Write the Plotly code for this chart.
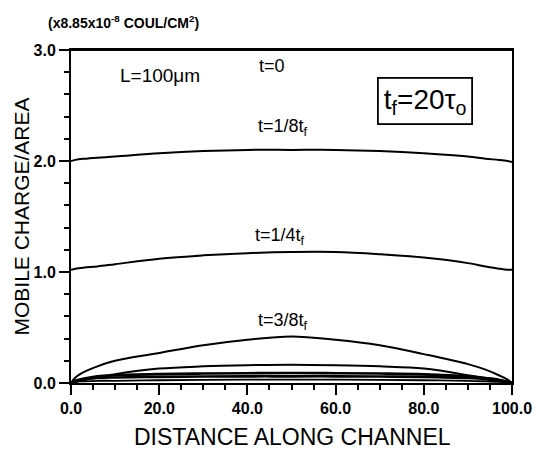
import plotly.graph_objects as go

# Distance along channel (micrometres)
x = [0, 1, 3, 6, 10, 20, 30, 40, 50, 60, 70, 80, 90, 94, 97, 99, 100]

# Mobile charge per area (x8.85e-8 C/cm^2) at successive times
t_0 = [3.0] * len(x)
t_1_8 = [2.00, 2.01, 2.02, 2.03, 2.04, 2.07, 2.09, 2.10, 2.10, 2.10, 2.09, 2.07, 2.04, 2.02, 2.01, 2.00, 1.99]
t_1_4 = [1.02, 1.03, 1.04, 1.05, 1.07, 1.12, 1.15, 1.17, 1.18, 1.18, 1.16, 1.13, 1.08, 1.05, 1.03, 1.02, 1.02]
t_3_8 = [0.0, 0.05, 0.10, 0.15, 0.20, 0.27, 0.34, 0.39, 0.42, 0.39, 0.34, 0.26, 0.17, 0.12, 0.07, 0.03, 0.0]
t_4 = [0.0, 0.01, 0.03, 0.05, 0.08, 0.13, 0.15, 0.16, 0.165, 0.16, 0.15, 0.13, 0.07, 0.04, 0.02, 0.01, 0.0]
t_5 = [0.0, 0.02, 0.04, 0.06, 0.07, 0.08, 0.085, 0.088, 0.09, 0.088, 0.085, 0.078, 0.06, 0.045, 0.03, 0.01, 0.0]
t_6 = [0.0, 0.015, 0.03, 0.045, 0.05, 0.055, 0.058, 0.06, 0.06, 0.06, 0.058, 0.055, 0.045, 0.035, 0.02, 0.01, 0.0]
t_7 = [0.0, 0.01, 0.015, 0.02, 0.02, 0.025, 0.028, 0.03, 0.03, 0.03, 0.028, 0.025, 0.02, 0.015, 0.01, 0.005, 0.0]

series = [t_0, t_1_8, t_1_4, t_3_8, t_4, t_5, t_6, t_7]
widths = [2.0, 2.0, 2.0, 2.0, 2.0, 2.6, 2.6, 1.8]

x_ticks = [0, 20, 40, 60, 80, 100]
x_ticktext = ["0.0", "20.0", "40.0", "60.0", "80.0", "100.0"]
y_ticks = [0, 1, 2, 3]
y_ticktext = ["0.0", "1.0", "2.0", "3.0"]

FONT = "Liberation Sans, Arial, sans-serif"

fig = go.Figure()
for s, w in zip(series, widths):
    fig.add_trace(go.Scatter(x=x, y=s, mode="lines",
                             line=dict(color="black", width=w, shape="spline", smoothing=1.0),
                             showlegend=False, hoverinfo="skip"))

labels = [
    dict(x=20.2, y=2.77, text="L=100μm", xanchor="center", size=19),
    dict(x=45.6, y=2.86, text="t=0", xanchor="center", size=18),
    dict(x=42.0, y=2.30, text="t=1/8t<sub>f</sub>", xanchor="left", size=18),
    dict(x=41.3, y=1.32, text="t=1/4t<sub>f</sub>", xanchor="left", size=18),
    dict(x=42.0, y=0.55, text="t=3/8t<sub>f</sub>", xanchor="left", size=18),
]
for a in labels:
    fig.add_annotation(x=a["x"], y=a["y"], text=a["text"], xanchor=a["xanchor"],
                       yanchor="middle", showarrow=False,
                       font=dict(family=FONT, size=a["size"], color="black"))

fig.add_annotation(x=80.3, y=2.54, text="t<sub>f</sub>=20τ<sub>o</sub>", showarrow=False,
                   font=dict(family=FONT, size=28, color="black"),
                   bordercolor="black", borderwidth=1.8, borderpad=5, bgcolor="white")

fig.add_annotation(xref="paper", yref="paper", x=(45 - 71) / 450, y=1 + (50 - 22) / 333,
                   text="(x8.85x10<sup>-8</sup> COUL/CM<sup>2</sup>)",
                   showarrow=False, xanchor="left", yanchor="middle",
                   font=dict(family=FONT, size=14, color="black", weight="bold"))

# Axis titles placed as paper annotations for precise positioning
fig.add_annotation(xref="paper", yref="paper", x=(20 - 71) / 450, y=0.5,
                   text="MOBILE CHARGE/AREA", textangle=-90, showarrow=False,
                   xanchor="center", yanchor="middle",
                   font=dict(family=FONT, size=21, color="black"))
fig.add_annotation(xref="paper", yref="paper", x=(297 - 71) / 450, y=-(437 - 383) / 333,
                   text="DISTANCE ALONG CHANNEL", showarrow=False,
                   xanchor="center", yanchor="middle",
                   font=dict(family=FONT, size=23, color="black"))

fig.update_layout(
    width=544, height=460,
    margin=dict(l=71, r=23, t=50, b=77),
    paper_bgcolor="white", plot_bgcolor="white",
    font=dict(family=FONT, color="black"),
)
fig.update_xaxes(range=[0, 100], tickvals=x_ticks, ticktext=x_ticktext,
                 ticks="outside", ticklen=10, tickwidth=2, tickcolor="black",
                 minor=dict(dtick=5, ticks="outside", ticklen=5, tickwidth=2, tickcolor="black"),
                 showline=True, linecolor="black", linewidth=2, mirror=True,
                 showgrid=False, zeroline=False,
                 tickfont=dict(family=FONT, size=16, color="black", weight="bold"))
fig.update_yaxes(range=[0, 3], tickvals=y_ticks, ticktext=y_ticktext,
                 ticks="outside", ticklen=10, tickwidth=2, tickcolor="black",
                 minor=dict(dtick=0.2, ticks="outside", ticklen=5, tickwidth=2, tickcolor="black"),
                 showline=True, linecolor="black", linewidth=2, mirror=True,
                 showgrid=False, zeroline=False,
                 tickfont=dict(family=FONT, size=16, color="black", weight="bold"))

fig.write_html("out.html")
